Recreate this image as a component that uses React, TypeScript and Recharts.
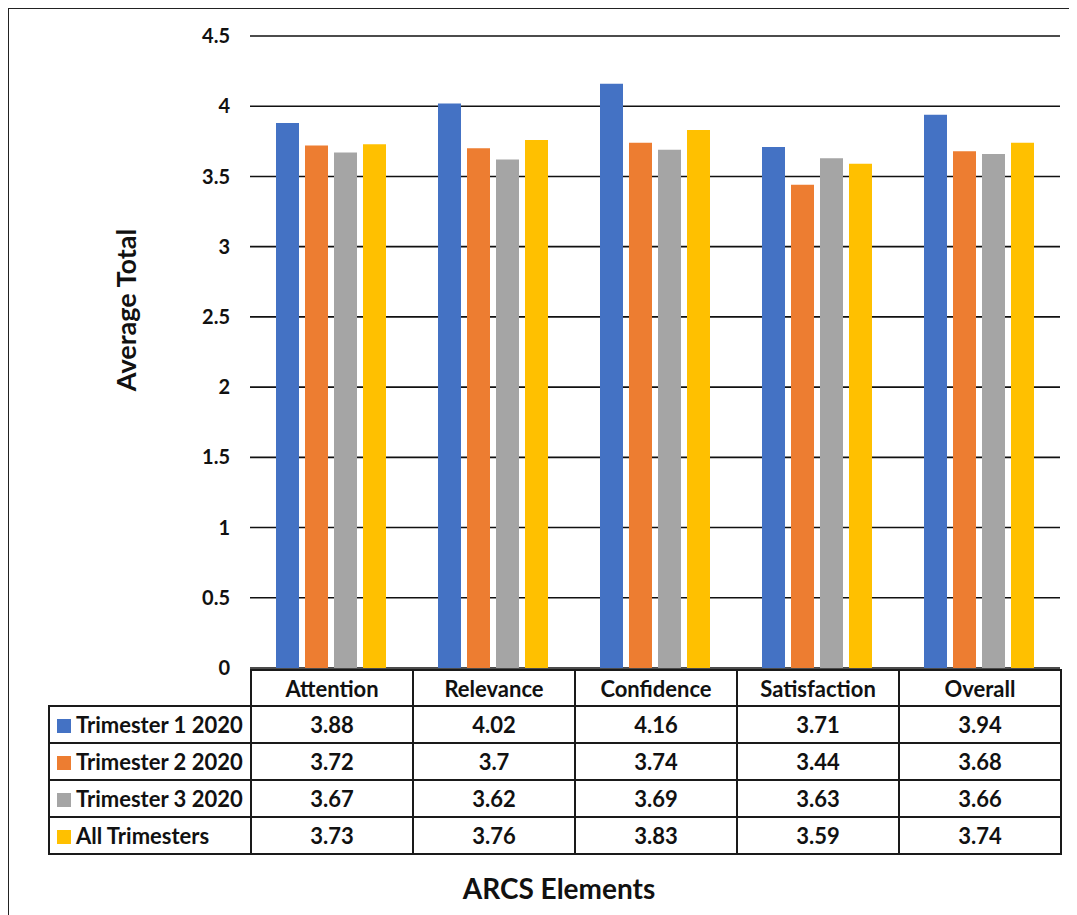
import React from 'react';
import { BarChart, Bar, XAxis, YAxis, CartesianGrid } from 'recharts';

const categories = ['Attention', 'Relevance', 'Confidence', 'Satisfaction', 'Overall'];
const trimester1 = [3.88, 4.02, 4.16, 3.71, 3.94];
const trimester2 = [3.72, 3.7, 3.74, 3.44, 3.68];
const trimester3 = [3.67, 3.62, 3.69, 3.63, 3.66];
const allTrimesters = [3.73, 3.76, 3.83, 3.59, 3.74];
const yTicks = [0, 0.5, 1, 1.5, 2, 2.5, 3, 3.5, 4, 4.5];

const series = [
  { key: 'Trimester 1 2020', values: trimester1, color: '#4472C4' },
  { key: 'Trimester 2 2020', values: trimester2, color: '#ED7D31' },
  { key: 'Trimester 3 2020', values: trimester3, color: '#A5A5A5' },
  { key: 'All Trimesters', values: allTrimesters, color: '#FFC000' },
];

const chartData = categories.map((name, i) => {
  const row: Record<string, string | number> = { name };
  series.forEach(s => { row[s.key] = s.values[i]; });
  return row;
});

const FONT = 'Lato, "Open Sans", sans-serif';
const cellBorder = '2px solid #1a1a1a';

export default function App() {
  return (
    <div
      style={{
        position: 'relative',
        width: 1069,
        height: 907,
        borderTop: '1px solid #222',
        borderLeft: '1px solid #222',
        fontFamily: FONT,
        background: '#fff',
      }}
    >
      <div style={{ position: 'absolute', left: 0, top: 0 }}>
        <BarChart
          width={1060}
          height={670}
          data={chartData}
          margin={{ top: 27, right: 9, left: 0, bottom: 11 }}
          barSize={23}
          barGap={6}
        >
          <CartesianGrid vertical={false} stroke="#111" strokeWidth={1.6} />
          <XAxis dataKey="name" hide />
          <YAxis
            width={241}
            domain={[0, 4.5]}
            ticks={yTicks}
            interval={0}
            axisLine={false}
            tickLine={false}
            tickSize={6}
            tickMargin={14}
            tick={{ fill: '#111', fontSize: 20, fontWeight: 700, fontFamily: FONT }}
          />
          {series.map(s => (
            <Bar key={s.key} dataKey={s.key} fill={s.color} isAnimationActive={false} />
          ))}
        </BarChart>
      </div>

      <div
        style={{
          position: 'absolute',
          left: 116,
          top: 301,
          transform: 'translate(-50%, -50%) rotate(-90deg)',
          fontSize: 27,
          fontWeight: 700,
          color: '#111',
          whiteSpace: 'nowrap',
        }}
      >
        Average Total
      </div>

      <table
        style={{
          position: 'absolute',
          left: 39,
          top: 660,
          borderCollapse: 'collapse',
          tableLayout: 'fixed',
          fontSize: 22,
          fontWeight: 700,
          color: '#111',
        }}
      >
        <colgroup>
          <col style={{ width: 202 }} />
          {categories.map(c => (
            <col key={c} style={{ width: 162 }} />
          ))}
        </colgroup>
        <tbody>
          <tr style={{ height: 36 }}>
            <td style={{ border: 'none' }} />
            {categories.map(c => (
              <td key={c} style={{ border: cellBorder, textAlign: 'center', padding: 0 }}>
                {c}
              </td>
            ))}
          </tr>
          {series.map(s => (
            <tr key={s.key} style={{ height: 37 }}>
              <td style={{ border: cellBorder, padding: '0 0 0 7px', whiteSpace: 'nowrap' }}>
                <span
                  style={{
                    display: 'inline-block',
                    width: 14,
                    height: 14,
                    background: s.color,
                    marginRight: 5,
                    verticalAlign: 0,
                  }}
                />
                {s.key}
              </td>
              {s.values.map((v, i) => (
                <td key={i} style={{ border: cellBorder, textAlign: 'center', padding: 0 }}>
                  {v}
                </td>
              ))}
            </tr>
          ))}
        </tbody>
      </table>

      <div
        style={{
          position: 'absolute',
          left: 550,
          top: 879,
          transform: 'translate(-50%, -50%)',
          fontSize: 28,
          fontWeight: 700,
          color: '#111',
          whiteSpace: 'nowrap',
        }}
      >
        ARCS Elements
      </div>
    </div>
  );
}
